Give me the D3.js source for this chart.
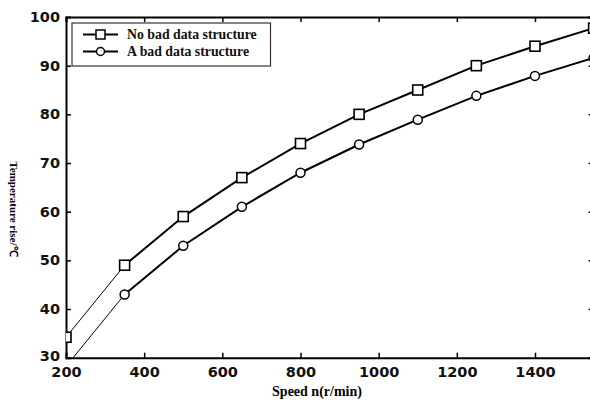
<!DOCTYPE html>
<html><head><meta charset="utf-8">
<script src="https://cdn.jsdelivr.net/npm/d3@7"></script>
<style>body{margin:0;background:#fff}svg{display:block}</style>
</head><body>
<script>
const speeds = [200, 350, 500, 650, 800, 950, 1100, 1250, 1400, 1550];
const noBad = [34.2, 49, 59, 67, 74, 80, 85, 90, 94, 97.7];
const aBad = [28.2, 43, 53, 61, 68, 73.8, 78.9, 83.8, 87.9, 91.6];
const seriesNames = ["No bad data structure", "A bad data structure"];
const xTicks = [200, 400, 600, 800, 1000, 1200, 1400];
const yTicks = [30, 40, 50, 60, 70, 80, 90, 100];

const W = 590, H = 401;
const svg = d3.select("body").append("svg").attr("width", W).attr("height", H);
const x = d3.scaleLinear().domain([200, 1550]).range([66, 593.6]);
const y = d3.scaleLinear().domain([30, 100]).range([357.7, 17]);

svg.append("defs").append("clipPath").attr("id", "clip")
  .append("rect").attr("x", 66).attr("y", 17).attr("width", 527.6).attr("height", 340.7);

const tickFont = "'DejaVu Sans', sans-serif";
const gx = svg.append("g").attr("transform", `translate(0,${y(30)})`)
  .call(d3.axisBottom(x).tickValues(xTicks).tickSize(-5).tickPadding(9).tickFormat(d3.format("d")));
const gxt = svg.append("g").attr("transform", `translate(0,${y(100)})`)
  .call(d3.axisTop(x).tickValues(xTicks).tickSize(-5).tickFormat(""));
const gy = svg.append("g").attr("transform", `translate(${x(200)},0)`)
  .call(d3.axisLeft(y).tickValues(yTicks).tickSize(-5).tickPadding(6).tickFormat(d3.format("d")));
const gyr = svg.append("g").attr("transform", `translate(${x(1550)},0)`)
  .call(d3.axisRight(y).tickValues(yTicks).tickSize(-5).tickFormat(""));
[gx, gxt, gy, gyr].forEach(g => {
  g.select(".domain").attr("stroke", "#000").attr("stroke-width", 2);
  g.selectAll(".tick line").attr("stroke", "#000").attr("stroke-width", 1.5);
  g.selectAll("text").attr("font-family", tickFont).attr("font-size", 14.5)
    .attr("font-weight", "bold").attr("fill", "#111");
});
gx.selectAll("text").attr("dy", "0.71em");
gx.selectAll(".tick").filter(d => d === 200).select("line").remove();
gy.selectAll(".tick").filter(d => d === 30 || d === 100).select("line").remove();
gy.selectAll(".tick text").filter(d => d === 30).attr("dy", "0.2em");

const plot = svg.append("g").attr("clip-path", "url(#clip)");
const data = [noBad, aBad];
data.forEach((vals, si) => {
  const pts = speeds.map((s, i) => [x(s), y(vals[i])]);
  plot.append("path").attr("d", d3.line()(pts.slice(0, 2)))
    .attr("fill", "none").attr("stroke", "#000").attr("stroke-width", 1);
  plot.append("path").attr("d", d3.line()(pts.slice(1)))
    .attr("fill", "none").attr("stroke", "#000").attr("stroke-width", 2);
  pts.forEach(p => {
    if (si === 0) {
      plot.append("rect").attr("x", p[0] - 5).attr("y", p[1] - 5).attr("width", 10).attr("height", 10)
        .attr("fill", "#fff").attr("stroke", "#000").attr("stroke-width", 1.6);
    } else {
      plot.append("circle").attr("cx", p[0]).attr("cy", p[1]).attr("r", 4.5)
        .attr("fill", "#fff").attr("stroke", "#000").attr("stroke-width", 1.5);
    }
  });
});

const lg = svg.append("g");
lg.append("rect").attr("x", 72).attr("y", 23).attr("width", 198.5).attr("height", 43)
  .attr("fill", "#fff").attr("stroke", "#333").attr("stroke-width", 1.2);
const ly = [34.5, 51.5];
seriesNames.forEach((name, i) => {
  lg.append("line").attr("x1", 83).attr("x2", 118).attr("y1", ly[i]).attr("y2", ly[i])
    .attr("stroke", "#000").attr("stroke-width", 2);
  if (i === 0) lg.append("rect").attr("x", 96).attr("y", ly[i] - 4.5).attr("width", 9).attr("height", 9)
    .attr("fill", "#fff").attr("stroke", "#000").attr("stroke-width", 1.5);
  else lg.append("circle").attr("cx", 100.5).attr("cy", ly[i]).attr("r", 4)
    .attr("fill", "#fff").attr("stroke", "#000").attr("stroke-width", 1.5);
  lg.append("text").attr("x", 127).attr("y", ly[i] + 4).text(name)
    .attr("font-family", "'Liberation Serif', serif").attr("font-weight", "bold").attr("font-size", 13.8)
    .attr("fill", "#111");
});

svg.append("text").attr("x", 317).attr("y", 396).attr("text-anchor", "middle")
  .attr("font-family", "'Liberation Serif', serif").attr("font-weight", "bold").attr("font-size", 14)
  .text("Speed n(r/min)");
svg.append("text").attr("transform", "translate(10,209) rotate(90)").attr("text-anchor", "middle")
  .attr("font-family", "'Liberation Serif', serif").attr("font-weight", "bold").attr("font-size", 11)
  .text("Temperature rise/℃");
</script>
</body></html>
